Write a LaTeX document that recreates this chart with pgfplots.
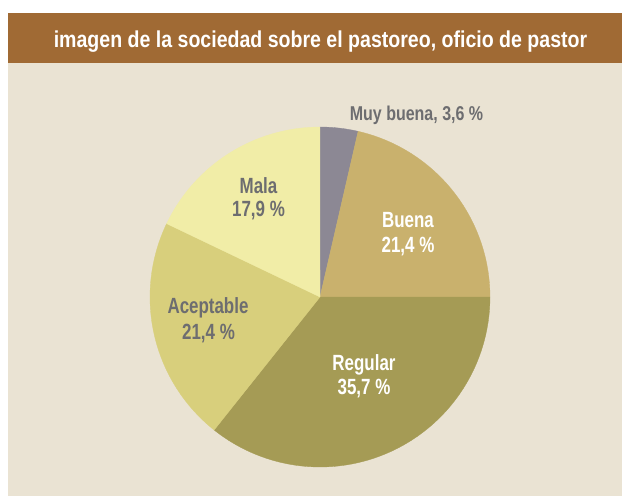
\documentclass[border=0pt]{standalone}
\usepackage{pgfplots}
\pgfplotsset{compat=1.18}
\usepackage{fontspec}
\setmainfont{Liberation Sans}
\newfontfamily\titlefont[FakeStretch=0.85]{Liberation Sans}
\newfontfamily\lblfont[FakeStretch=0.77]{Liberation Sans}
\newfontfamily\topfont[FakeStretch=0.80]{Liberation Sans}
\definecolor{brownbar}{RGB}{160,106,52}
\definecolor{beigebg}{RGB}{234,227,211}
\definecolor{cMuy}{RGB}{140,136,148}
\definecolor{cBuena}{RGB}{201,177,109}
\definecolor{cRegular}{RGB}{165,155,85}
\definecolor{cAcept}{RGB}{216,207,124}
\definecolor{cMala}{RGB}{241,237,167}
\definecolor{lblgray}{RGB}{109,109,112}
% slice from cumulative percent #1 to #2, clockwise from the top
\newcommand{\slice}[3]{%
  \addplot[fill=#3, draw=#3, line width=0.3pt, domain=#1:#2, samples=90, variable=\t]
    ({320+170*sin(\t*3.6)}, {297-170*cos(\t*3.6)}) -- (axis cs:320,297) -- cycle;}
\begin{document}
\begin{tikzpicture}
\begin{axis}[
  width=622pt, height=496pt, scale only axis,
  xmin=0, xmax=622, ymin=0, ymax=496, y dir=reverse,
  hide axis, clip=false]
% background
\addplot[fill=white, draw=none] coordinates {(0,0) (622,0) (622,496) (0,496)} -- cycle;
\addplot[fill=beigebg, draw=none] coordinates {(8,62) (622,62) (622,496) (8,496)} -- cycle;
\addplot[fill=brownbar, draw=none] coordinates {(8,13) (622,13) (622,62.5) (8,62.5)} -- cycle;
% values: Muy buena 3.6, Buena 21.4, Regular 35.7, Aceptable 21.4, Mala 17.9
\slice{0}{3.6}{cMuy}
\slice{3.6}{25.0}{cBuena}
\slice{25.0}{60.7}{cRegular}
\slice{60.7}{82.1}{cAcept}
\slice{82.1}{100}{cMala}
% title
\node[anchor=base, inner sep=0, text=white] at (axis cs:320.5,47)
  {\titlefont\bfseries\fontsize{23}{27}\selectfont imagen de la sociedad sobre el pastoreo, oficio de pastor};
% labels
\node[anchor=base, inner sep=0, text=lblgray] at (axis cs:416.5,120)
  {\topfont\bfseries\fontsize{20}{23}\selectfont Muy buena, 3,6 \%};
\node[anchor=base, inner sep=0, text=lblgray] at (axis cs:258.5,193)
  {\lblfont\bfseries\fontsize{22}{24}\selectfont Mala};
\node[anchor=base, inner sep=0, text=lblgray] at (axis cs:258.5,216)
  {\lblfont\bfseries\fontsize{22}{24}\selectfont 17,9 \%};
\node[anchor=base, inner sep=0, text=white] at (axis cs:408,227)
  {\lblfont\bfseries\fontsize{22}{24}\selectfont Buena};
\node[anchor=base, inner sep=0, text=white] at (axis cs:408,252)
  {\lblfont\bfseries\fontsize{22}{24}\selectfont 21,4 \%};
\node[anchor=base, inner sep=0, text=lblgray] at (axis cs:208,313)
  {\lblfont\bfseries\fontsize{22}{24}\selectfont Aceptable};
\node[anchor=base, inner sep=0, text=lblgray] at (axis cs:208.5,339)
  {\lblfont\bfseries\fontsize{22}{24}\selectfont 21,4 \%};
\node[anchor=base, inner sep=0, text=white] at (axis cs:364,370)
  {\lblfont\bfseries\fontsize{22}{24}\selectfont Regular};
\node[anchor=base, inner sep=0, text=white] at (axis cs:364,394)
  {\lblfont\bfseries\fontsize{22}{24}\selectfont 35,7 \%};
\end{axis}
\end{tikzpicture}
\end{document}
